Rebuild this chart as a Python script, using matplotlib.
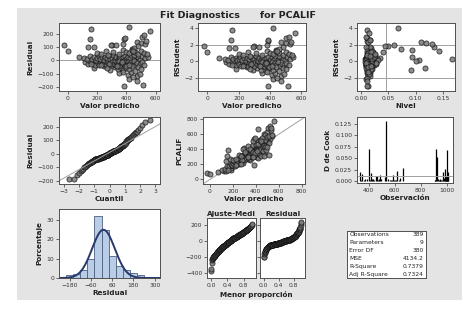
import numpy as np
import matplotlib
matplotlib.use('Agg')
import matplotlib.pyplot as plt
from matplotlib.patches import Rectangle
from statistics import NormalDist

pred = [240, 75, 300, 120, 180, 110, 140, -23, 155, 130,
        170, 350, 150, 185, 0, 165, 195, 250, 180, 205,
        141, 190, 215, 470, 200, 225, 290, 210, 235, 160,
        220, 250, 176, 235, 260, 410, 245, 268, 258, 255,
        275, 320, 265, 285, 150, 280, 292, 200, 290, 300,
        420, 300, 305, 340, 310, 315, 293, 320, 322, 230,
        330, 330, 360, 340, 338, 385, 350, 345, 420, 360,
        352, 310, 375, 360, 430, 390, 368, 329, 400, 375,
        380, 410, 382, 350, 425, 390, 385, 435, 398, 380,
        450, 405, 400, 465, 412, 440, 480, 420, 400, 495,
        430, 420, 510, 440, 470, 525, 450, 420, 545, 462,
        440, 455, 380, 475, 440, 490, 460, 505, 500, 480,
        460, 520, 445, 480, 160, 480, 500, 228, 490, 520,
        280, 500, 540, 335, 270, 455, 372, 395, 470, 415,
        380, 445, 275, 505, 521, 530, 535, 512, 560, 390]

resid = [-3, 24, 118, -10, -60, 20, -25, 112, -5, 8,
         -18, -95, 30, -32, 68, 12, -8, -45, 25, -22,
         102, 5, -38, 138, 18, -12, -70, 35, -28, 238,
         10, -20, 98, 28, -35, -110, 3, -15, 68, 22,
         -6, -52, 15, -30, 162, 32, -18, 55, 8, -38,
         -140, 20, -10, -65, 38, -25, 112, 12, -2, 45,
         25, -33, -48, 5, -14, 158, 30, -27, 250, 15,
         -8, 60, 22, -36, -88, 35, -20, 112, 10, -5,
         -75, 28, -30, 50, 18, -16, -190, 38, -38, 75,
         12, -24, -55, 30, -9, 84, 22, -31, 65, 6,
         -14, -68, 35, -26, -118, 15, -4, 55, 28, -35,
         -42, 38, 125, -19, 78, -28, -78, -12, 130, 105,
         62, -33, -128, 48, -30, -50, 70, -36, -100, 58,
         -24, -62, 45, -39, -58, 93, -11, -44, -155, -37,
         -85, 71, 42, 178, 190, 122, 146, -188, 218, 165]

lev = [0.012, 0.035, 0.050, 0.028, 0.015, 0.030, 0.022, 0.045, 0.018, 0.025,
       0.014, 0.011, 0.020, 0.016, 0.040, 0.166, 0.010, 0.013, 0.019, 0.009,
       0.014, 0.021, 0.017, 0.110, 0.008, 0.024, 0.012, 0.015, 0.011, 0.012,
       0.106, 0.020, 0.018, 0.013, 0.009, 0.014, 0.100, 0.016, 0.022, 0.010,
       0.027, 0.117, 0.014, 0.019, 0.016, 0.011, 0.023, 0.020, 0.012, 0.015,
       0.010, 0.017, 0.008, 0.091, 0.021, 0.013, 0.016, 0.026, 0.018, 0.012,
       0.009, 0.020, 0.014, 0.031, 0.011, 0.012, 0.016, 0.024, 0.068, 0.010,
       0.019, 0.013, 0.022, 0.015, 0.017, 0.012, 0.028, 0.010, 0.018, 0.014,
       0.011, 0.020, 0.009, 0.025, 0.015, 0.013, 0.013, 0.017, 0.021, 0.012,
       0.010, 0.016, 0.019, 0.094, 0.012, 0.094, 0.023, 0.014, 0.011, 0.018,
       0.027, 0.013, 0.015, 0.010, 0.016, 0.020, 0.012, 0.017, 0.024, 0.013,
       0.018, 0.011, 0.060, 0.015, 0.021, 0.012, 0.016, 0.019, 0.119, 0.133,
       0.013, 0.017, 0.012, 0.022, 0.014, 0.010, 0.018, 0.011, 0.015, 0.026,
       0.013, 0.020, 0.012, 0.016, 0.019, 0.073, 0.010, 0.014, 0.012, 0.018,
       0.013, 0.143, 0.017, 0.011, 0.010, 0.130, 0.014, 0.012, 0.015, 0.016]

# observation numbers come in two runs
obs_runs = [(330, 113), (905, 37)]   # (first observation, count), step 3
obs_step = 3

stat_names = ["Observations", "Parameters", "Error DF", "MSE", "R-Square", "Adj R-Square"]
stat_values = ["389", "9", "380", "4134.2", "0.7379", "0.7324"]
n_obs, n_par, mse = 389, 9, 4134.2

hist_edges = np.arange(-200, 281, 40)

# ---- derived quantities ----
pred = np.array(pred, float)
resid = np.array(resid, float)
lev = np.array(lev, float)
s = np.sqrt(mse)
rstud = resid / (s * np.sqrt(1 - lev))
cook = resid ** 2 / (n_par * mse) * lev / (1 - lev) ** 2
observed = pred + resid
obs_id = np.concatenate([start + obs_step * np.arange(cnt) for start, cnt in obs_runs])
n = len(resid)
nd = NormalDist()
quant = np.array([nd.inv_cdf((i + 1 - 0.375) / (n + 0.25)) for i in range(n)])
prop = (np.arange(n) + 0.5) / n

# ---- figure ----
W, H = 471, 316
fig = plt.figure(figsize=(W / 100, H / 100), dpi=100)
fig.patches.append(Rectangle((17 / W, 1 - 300 / H), 445 / W, 292 / H,
                             transform=fig.transFigure, facecolor='#e4e4e4',
                             edgecolor='none', zorder=-10))

TK = 4.3
LB = 5.2
EDGE = '#505050'


def add_px(l, t, r, b):
    ax = fig.add_axes([l / W, 1 - b / H, (r - l) / W, (b - t) / H])
    ax.set_facecolor('white')
    ax.set_zorder(2)
    for sp in ax.spines.values():
        sp.set_color(EDGE)
        sp.set_linewidth(0.7)
    ax.tick_params(labelsize=TK, length=2, width=0.5, pad=1.5, colors='#333333')
    return ax


def lab(ax, xl=None, yl=None):
    if xl:
        ax.set_xlabel(xl, fontsize=LB, fontweight='bold', labelpad=1.5, color='#222222')
    if yl:
        ax.set_ylabel(yl, fontsize=LB, fontweight='bold', labelpad=3, color='#222222')


mk = dict(marker='o', ls='none', ms=3.7, mfc='#7a7a7a', mec='#111111', mew=0.55, alpha=0.85)
refc = '#a0a0a0'

# row 1
ax = add_px(59, 23, 160, 91)
ax.axhline(0, color=refc, lw=0.7)
ax.plot(pred, resid, **mk)
ax.set_xlim(-60, 630); ax.set_ylim(-230, 280)
ax.set_xticks([0, 200, 400, 600]); ax.set_yticks([-200, -100, 0, 100, 200])
lab(ax, 'Valor predicho', 'Residual')

ax = add_px(198, 23, 306, 91)
for v in (-2, 2):
    ax.axhline(v, color=refc, lw=0.7)
ax.plot(pred, rstud, **mk)
ax.set_xlim(-60, 630); ax.set_ylim(-3.6, 4.6)
ax.set_xticks([0, 200, 400, 600]); ax.set_yticks([-2, 0, 2, 4])
lab(ax, 'Valor predicho', 'RStudent')

ax = add_px(357, 23, 455, 91)
for v in (-2, 2):
    ax.axhline(v, color=refc, lw=0.7)
ax.axvline(2 * n_par / n_obs, color=refc, lw=0.7)
ax.plot(lev, rstud, **mk)
ax.set_xlim(-0.007, 0.172); ax.set_ylim(-3.6, 4.6)
ax.set_xticks([0.0, 0.05, 0.10, 0.15]); ax.set_yticks([-2, 0, 2, 4])
ax.set_xticklabels(['0.00', '0.05', '0.10', '0.15'])
lab(ax, 'Nivel', 'RStudent')

# row 2
ax = add_px(59, 117, 160, 184)
ax.plot(quant, np.sort(resid), **mk)
xx = np.array([-3.3, 3.3])
ax.plot(xx, resid.mean() + s * xx, color=refc, lw=0.7)
ax.set_xlim(-3.3, 3.3); ax.set_ylim(-225, 275)
ax.set_xticks([-3, -2, -1, 0, 1, 2, 3]); ax.set_yticks([-200, -100, 0, 100, 200])
lab(ax, 'Cuantil', 'Residual')

ax = add_px(203, 117, 305, 184)
ax.plot([-60, 830], [-60, 830], color=refc, lw=0.7)
ax.plot(pred, observed, **mk)
ax.set_xlim(-60, 830); ax.set_ylim(-60, 830)
ax.set_xticks([0, 200, 400, 600, 800]); ax.set_yticks([0, 200, 400, 600, 800])
lab(ax, 'Valor predicho', 'PCALIF')

ax = add_px(357, 117, 453, 183)
ax.vlines(obs_id, 0, cook, color='black', lw=0.9)
ax.axhline(4 / n_obs, color=refc, lw=0.7)
ax.set_xlim(310, 1050); ax.set_ylim(-0.004, 0.14)
ax.set_xticks([400, 600, 800, 1000])
ax.set_yticks([0, 0.025, 0.05, 0.075, 0.1, 0.125])
ax.set_yticklabels(['0.000', '0.025', '0.050', '0.075', '0.100', '0.125'])
lab(ax, 'Observación', 'D de Cook')

# row 3
ax = add_px(59, 209, 160, 278)
wts = np.full(n, 100.0 / n)
ax.hist(resid, bins=hist_edges, weights=wts, color='#b9cde6', edgecolor='#4d5f80', lw=0.6)
xs = np.linspace(-240, 330, 300)
mu = resid.mean()
ax.plot(xs, 100 * 40 * np.exp(-0.5 * ((xs - mu) / s) ** 2) / (s * np.sqrt(2 * np.pi)),
        color='#27396b', lw=1.4)
ax.set_xlim(-240, 330); ax.set_ylim(0, 35.5)
ax.set_xticks([-180, -60, 60, 180, 300]); ax.set_yticks([0, 10, 20, 30])
lab(ax, 'Residual', 'Porcentaje')

ax = add_px(207, 218, 256, 278)
ax.plot(prop, np.sort(pred - pred.mean()), **mk)
ax.set_xlim(-0.1, 1.1); ax.set_ylim(-460, 290)
ax.set_xticks([0.0, 0.4, 0.8]); ax.set_yticks([-400, -200, 0, 200])
ax.set_title('Ajuste-Medi', fontsize=LB, fontweight='bold', pad=1.5, color='#222222')

ax2 = add_px(260, 218, 305, 278)
ax2.plot(prop, np.sort(resid - resid.mean()), **mk)
ax2.set_xlim(-0.1, 1.1); ax2.set_ylim(-460, 290)
ax2.set_xticks([0.0, 0.4, 0.8]); ax2.set_yticks([-400, -200, 0, 200])
ax2.tick_params(labelleft=False)
ax2.set_title('Residual', fontsize=LB, fontweight='bold', pad=1.5, color='#222222')
fig.text(256 / W, 1 - 294 / H, 'Menor proporción', ha='center', va='center',
         fontsize=LB, fontweight='bold', color='#222222')

# fit statistics box
ax = add_px(347, 231, 426, 278)
ax.set_xticks([]); ax.set_yticks([])
for i, (nm, val) in enumerate(zip(stat_names, stat_values)):
    y = 1 - (i + 0.5) / len(stat_names)
    ax.text(0.03, y, nm, fontsize=TK, va='center', ha='left', color='#222222')
    ax.text(0.97, y, val, fontsize=TK, va='center', ha='right', color='#222222')

fig.text(200 / W, 1 - 16 / H, 'Fit Diagnostics', ha='center', va='center',
         fontsize=6.8, fontweight='bold', color='#222222')
fig.text(288 / W, 1 - 16 / H, 'for PCALIF', ha='center', va='center',
         fontsize=6.8, fontweight='bold', color='#222222')

fig.savefig('out.png', dpi=100)
